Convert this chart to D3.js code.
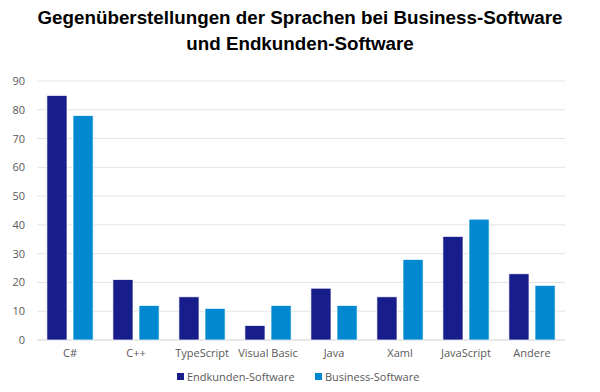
<!DOCTYPE html>
<html>
<head>
<meta charset="utf-8">
<script src="https://cdn.jsdelivr.net/npm/d3@7"></script>
<style>
  body { margin: 0; background: #fff; }
  .tick text { fill: #595959; font-family: "Open Sans", "Noto Sans", sans-serif; font-size: 11px; }
</style>
</head>
<body>
<div class="chart"></div>
<script>
var categories = ["C#", "C++", "TypeScript", "Visual Basic", "Java", "Xaml", "JavaScript", "Andere"];
var seriesNames = ["Endkunden-Software", "Business-Software"];
var endkunden = [85, 21, 15, 5, 18, 15, 36, 23];
var business = [78, 12, 11, 12, 12, 28, 42, 19];
var yTicks = [0, 10, 20, 30, 40, 50, 60, 70, 80, 90];
var colors = ["#181d8c", "#0089d0"];

var svgWidth = 600;
var svgHeight = 392;
var margin = { top: 81, right: 35, bottom: 52, left: 37 };
var width = svgWidth - margin.left - margin.right;
var height = svgHeight - margin.top - margin.bottom;

var svg = d3.select(".chart").append("svg")
  .attr("width", svgWidth)
  .attr("height", svgHeight);

// title
var title = svg.append("text")
  .attr("text-anchor", "middle")
  .style("font-family", "'Liberation Sans', Arial, sans-serif")
  .style("font-weight", "bold")
  .style("font-size", "18.8px")
  .style("fill", "#000");
title.append("tspan").attr("x", svgWidth / 2).attr("y", 24).text("Gegenüberstellungen der Sprachen bei Business-Software");
title.append("tspan").attr("x", svgWidth / 2).attr("y", 50).text("und Endkunden-Software");

var chartGroup = svg.append("g")
  .attr("transform", `translate(${margin.left}, ${margin.top})`);

var x0 = d3.scaleBand()
  .domain(categories)
  .range([0, width])
  .paddingInner(0.3)
  .paddingOuter(0.15);

var x1 = d3.scaleBand()
  .domain(seriesNames)
  .range([0, x0.bandwidth()])
  .paddingInner(0.23);

var y = d3.scaleLinear()
  .domain([0, 90])
  .range([height, 0]);

// gridlines
chartGroup.append("g")
  .selectAll("line")
  .data(yTicks)
  .enter()
  .append("line")
  .attr("x1", 0)
  .attr("x2", width)
  .attr("y1", d => y(d))
  .attr("y2", d => y(d))
  .attr("stroke", d => d === 0 ? "#d0d0d0" : "#e3e3e3")
  .attr("stroke-width", 1);

var leftAxis = d3.axisLeft(y).tickValues(yTicks).tickSize(0).tickPadding(12);
var yAxis = chartGroup.append("g").call(leftAxis);
yAxis.select(".domain").remove();

var bottomAxis = d3.axisBottom(x0).tickSize(0).tickPadding(9);
var xAxis = chartGroup.append("g")
  .attr("transform", `translate(0, ${height})`)
  .call(bottomAxis);
xAxis.select(".domain").remove();

var data = categories.map((c, i) => ({ cat: c, values: [endkunden[i], business[i]] }));

var groups = chartGroup.selectAll(".grp")
  .data(data)
  .enter()
  .append("g")
  .attr("transform", d => `translate(${x0(d.cat)}, 0)`);

groups.selectAll("rect")
  .data(d => d.values.map((v, i) => ({ key: seriesNames[i], value: v, idx: i })))
  .enter()
  .append("rect")
  .attr("x", d => x1(d.key))
  .attr("y", d => y(d.value))
  .attr("width", x1.bandwidth())
  .attr("height", d => height - y(d.value))
  .attr("fill", d => colors[d.idx])
  .attr("stroke", "#fff")
  .attr("stroke-width", 0.7);

// legend
var legendItems = [{ name: seriesNames[0], x: 177 }, { name: seriesNames[1], x: 315 }];
var legend = svg.append("g");
legendItems.forEach((item, i) => {
  legend.append("rect")
    .attr("x", item.x)
    .attr("y", 373)
    .attr("width", 7)
    .attr("height", 7)
    .attr("fill", colors[i]);
  legend.append("text")
    .attr("x", item.x + 10)
    .attr("y", 381)
    .style("font-family", "'Open Sans', 'Noto Sans', sans-serif")
    .style("font-size", "11px")
    .style("fill", "#595959")
    .text(item.name);
});
</script>
</body>
</html>
